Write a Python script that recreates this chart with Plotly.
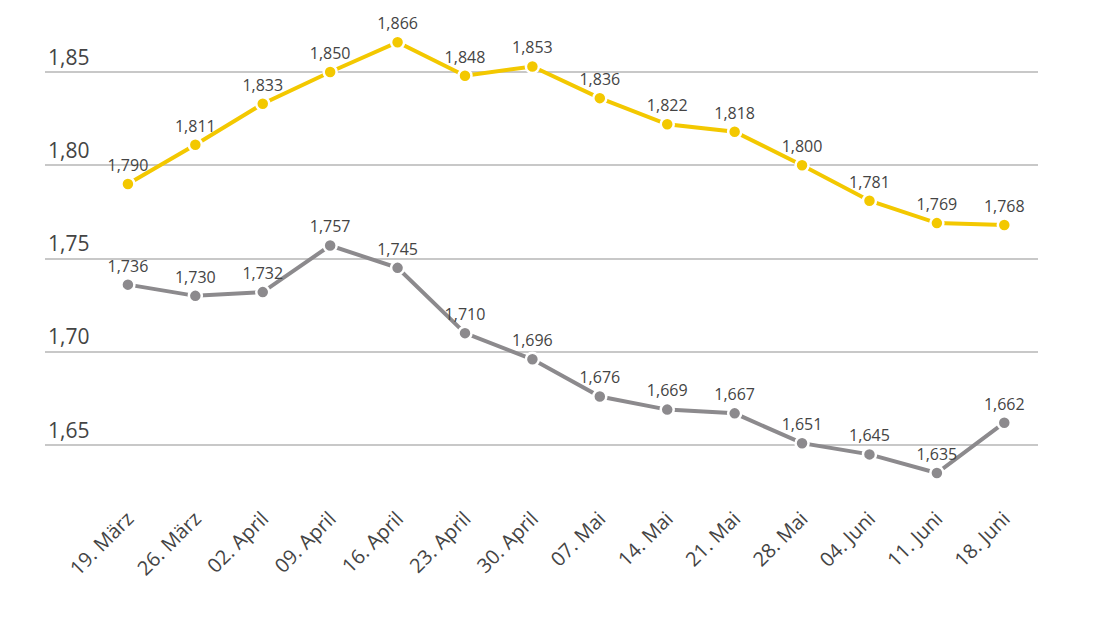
import plotly.graph_objects as go

dates = ["19. März", "26. März", "02. April", "09. April", "16. April", "23. April", "30. April",
         "07. Mai", "14. Mai", "21. Mai", "28. Mai", "04. Juni", "11. Juni", "18. Juni"]
yellow_vals = [1.790, 1.811, 1.833, 1.850, 1.866, 1.848, 1.853, 1.836, 1.822, 1.818, 1.800, 1.781, 1.769, 1.768]
gray_vals = [1.736, 1.730, 1.732, 1.757, 1.745, 1.710, 1.696, 1.676, 1.669, 1.667, 1.651, 1.645, 1.635, 1.662]
y_ticks = [1.65, 1.70, 1.75, 1.80, 1.85]
y_ticktext = ["1,65", "1,70", "1,75", "1,80", "1,85"]

def fmt(v):
    return f"{v:.3f}".replace(".", ",")

fig = go.Figure()
for vals, color in [(gray_vals, "#8C8A8D"), (yellow_vals, "#F3C800")]:
    fig.add_trace(go.Scatter(
        x=list(range(len(dates))), y=vals, mode="lines+markers+text",
        line=dict(color=color, width=4),
        marker=dict(size=13, color=color, line=dict(color="white", width=2.5)),
        text=[fmt(v) for v in vals], textposition="top center",
        textfont=dict(family="Open Sans", size=16, color="#444444"),
        cliponaxis=False, showlegend=False, hoverinfo="skip",
    ))

fig.update_layout(
    width=1100, height=618,
    margin=dict(l=45, r=62, t=20, b=128),
    paper_bgcolor="white", plot_bgcolor="white",
    font=dict(family="Open Sans", color="#444444"),
)
fig.update_xaxes(
    range=[-1.23, 13.5], tickmode="array", tickvals=list(range(len(dates))), ticktext=dates,
    tickangle=-45, showgrid=False, zeroline=False, showline=False,
    ticks="outside", ticklen=8, tickcolor="rgba(0,0,0,0)",
    tickfont=dict(family="Open Sans", size=20, color="#444444"),
)
fig.update_yaxes(
    range=[1.6259, 1.8779], tickmode="array", tickvals=y_ticks, ticktext=y_ticktext,
    ticklabelposition="inside top", showgrid=True, gridcolor="#C8C8C8", gridwidth=2,
    zeroline=False, showline=False, ticks="",
    tickfont=dict(family="Open Sans", size=21, color="#444444"),
)
fig.write_html("out.html")
